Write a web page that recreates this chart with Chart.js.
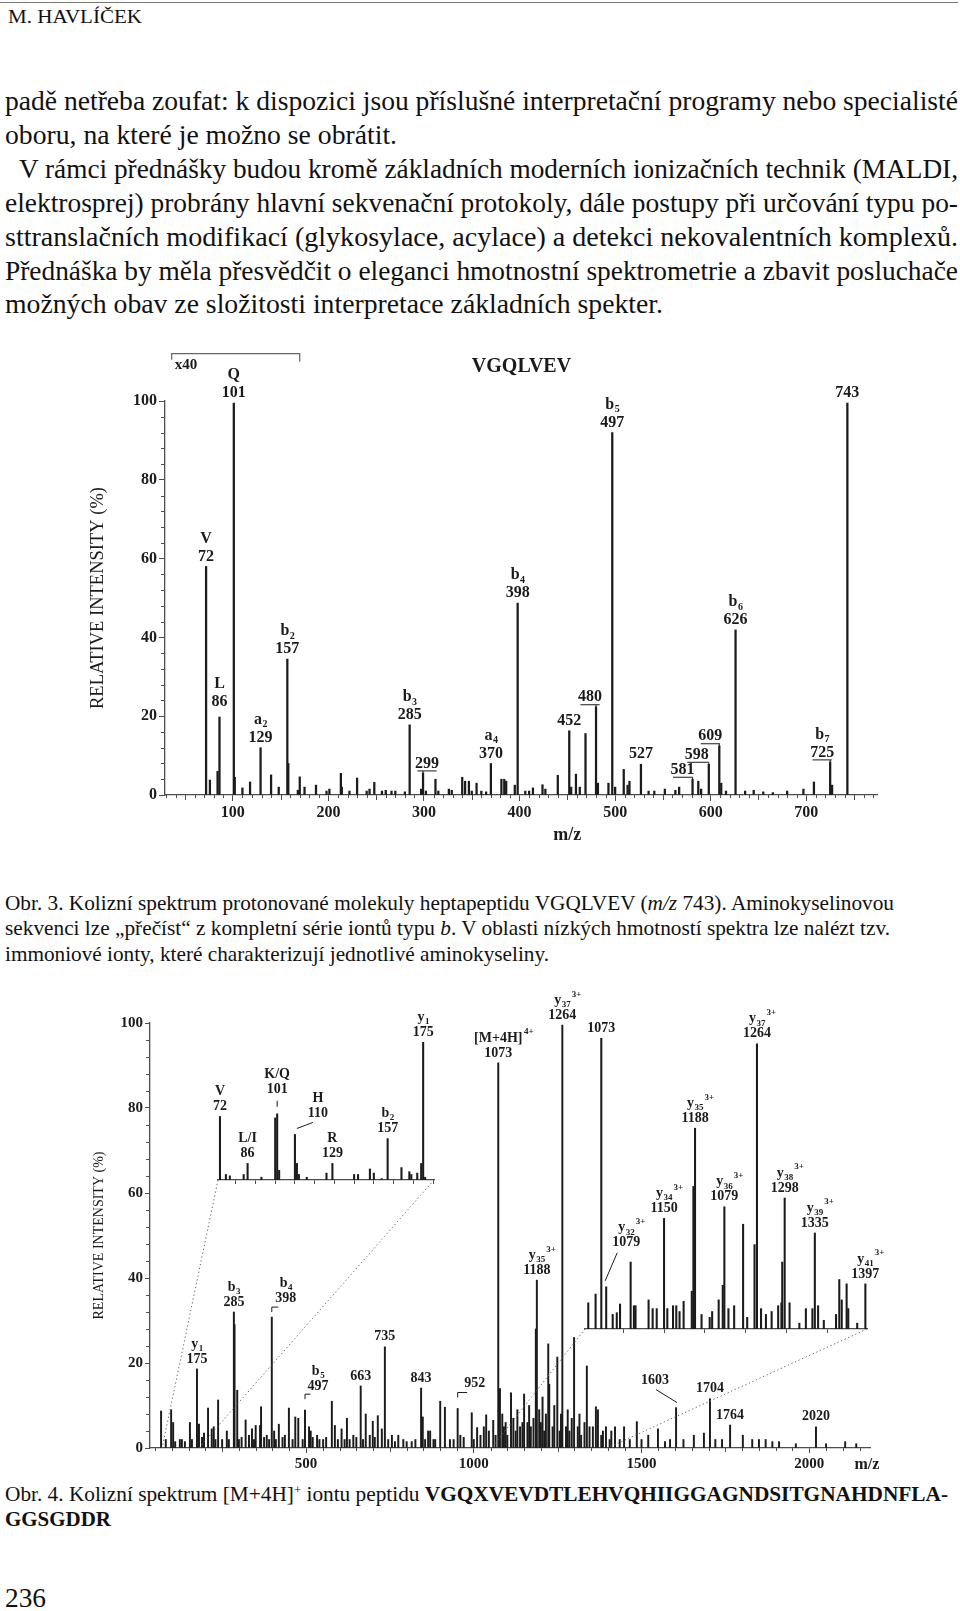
<!DOCTYPE html>
<html lang="cs">
<head>
<meta charset="utf-8">
<title>Kolizní spektra – Obr. 3 a 4</title>
<script src="https://cdn.jsdelivr.net/npm/chart.js@4.4.1/dist/chart.umd.min.js"></script>
<style>
html, body { margin: 0; padding: 0; background: #fff; }
body { width: 960px; height: 1611px; position: relative; overflow: hidden;
       font-family: "Liberation Serif", "Times New Roman", serif; color: #111; }
.ln { position: absolute; white-space: nowrap; line-height: 1; transform-origin: 0 0; }
.ln sup { font-size: 0.6em; vertical-align: 0.55em; line-height: 0; }
canvas { position: absolute; }
#rule { position: absolute; left: 0; top: 2px; width: 958px; border-top: 1.5px solid #777; }
</style>
</head>
<body>
<div id="rule"></div>
<canvas id="spec1" width="820" height="510" style="left:80px;top:340px"></canvas>
<canvas id="spec2" width="820" height="500" style="left:80px;top:980px"></canvas>
<canvas id="ins1" width="260" height="200" style="left:200px;top:1000px"></canvas>
<canvas id="ins2" width="340" height="360" style="left:560px;top:990px"></canvas>
<script>
// ---- Obr. 3: VGQLVEV, m/z and relative intensity (%)
const mz1 = [
  72, 76, 84, 86, 101, 102, 110, 118, 129, 140,
  148, 157, 158, 168, 170, 175, 187, 198, 201, 213,
  214, 222, 230, 240, 243, 248, 256, 260, 266, 270,
  280, 285, 297, 299, 302, 312, 315, 326, 329, 340,
  343, 347, 350, 355, 360, 365, 370, 381, 384, 386,
  395, 398, 406, 410, 414, 424, 427, 440, 452, 454,
  459, 463, 469, 480, 482, 493, 497, 500, 509, 513,
  515, 527, 535, 541, 552, 563, 567, 581, 587, 590,
  598, 609, 611, 616, 626, 636, 645, 655, 665, 680,
  697, 708, 725, 727, 743
];
const int1 = [
  58, 3.8, 6, 19.8, 99.5, 4.5, 1.8, 3.3, 12, 5.1,
  2, 34.5, 8, 1.2, 4.6, 2, 2.5, 1, 1.5, 5.5,
  2, 1, 4.3, 1, 1.5, 3.2, 1, 1.2, 1, 1,
  0.8, 17.8, 1.5, 5.6, 1, 4, 1, 1.5, 1.2, 4.5,
  3.5, 3.5, 1, 3, 1, 0.8, 8, 4, 4, 3.5,
  2.5, 48.7, 1, 1, 1.8, 2.6, 1.5, 5, 16.3, 2,
  5.3, 2, 15.6, 22.4, 3, 3, 92, 2, 6.5, 2.5,
  3.5, 7.8, 1, 1, 1.5, 1.2, 2, 4, 3.5, 1.5,
  7.8, 12.5, 3, 1, 41.9, 1, 1.2, 0.8, 0.6, 1,
  1.5, 3.3, 8.4, 2.5, 99.5
];
const xTicks1 = [100, 200, 300, 400, 500, 600, 700];
const yTicks = [0, 20, 40, 60, 80, 100];
const labels1 = [
  [72, ['V', '72']], [86, ['L', '86']], [101, ['Q', '101']], [129, ['a_2', '129']],
  [157, ['b_2', '157']], [285, ['b_3', '285']], [299, ['299']], [370, ['a_4', '370']],
  [398, ['b_4', '398']], [452, ['452']], [480, ['480']], [497, ['b_5', '497']],
  [527, ['527']], [581, ['581']], [598, ['598']], [609, ['609']],
  [626, ['b_6', '626']], [725, ['b_7', '725']], [743, ['743']]
];

// ---- Obr. 4: [M+4H]4+ spectrum
const mz2 = [
  68, 82, 98, 104, 110, 124, 130, 139, 154, 160,
  175, 181, 190, 196, 208, 219, 225, 230, 238, 250,
  264, 270, 285, 287, 295, 300, 308, 320, 330, 339,
  345, 350, 363, 366, 375, 383, 390, 398, 405, 410,
  419, 430, 437, 449, 460, 468, 477, 490, 497, 509,
  514, 520, 533, 540, 551, 560, 577, 586, 595, 606,
  615, 622, 630, 641, 650, 663, 670, 678, 690, 699,
  705, 714, 726, 735, 745, 756, 765, 775, 790, 800,
  815, 826, 843, 848, 855, 864, 870, 880, 885, 900,
  914, 929, 940, 952, 960, 970, 994, 1000, 1010, 1020,
  1030, 1037, 1045, 1058, 1065, 1073, 1078, 1085, 1090, 1095,
  1100, 1111, 1118, 1125, 1130, 1138, 1145, 1150, 1160, 1165,
  1170, 1178, 1185, 1188, 1195, 1200, 1205, 1210, 1215, 1222,
  1225, 1235, 1240, 1249, 1256, 1260, 1264, 1275, 1280, 1285,
  1292, 1299, 1310, 1315, 1320, 1330, 1337, 1345, 1355, 1364,
  1370, 1380, 1385, 1394, 1405, 1410, 1421, 1435, 1448, 1465,
  1486, 1500, 1520, 1549, 1570, 1585, 1603, 1625, 1656, 1686,
  1704, 1720, 1740, 1764, 1802, 1830, 1850, 1870, 1890, 1910,
  1960, 2020, 2050, 2107, 2140
];
const int2 = [
  8.7, 2, 9, 6, 1.5, 2, 2, 1.5, 6, 2,
  18.6, 5.6, 2.5, 3.5, 9.4, 4.5, 5, 2, 11.3, 2,
  4, 2, 32, 29, 13.6, 2, 2.5, 6.6, 3, 4.5,
  2, 5.3, 5.3, 9.7, 2.5, 3, 2, 30.8, 4, 2,
  5.6, 2.5, 3, 9.4, 2, 7.3, 7, 2, 8.9, 5,
  4, 2.5, 3, 2, 2, 2.5, 11, 5.3, 2, 4.5,
  2, 7, 2, 3, 2.5, 14.6, 2, 8, 3, 6.3,
  2.5, 7.6, 4.5, 23.8, 2, 3, 1.5, 3, 2, 1.5,
  1.5, 2, 14.1, 7.3, 2, 4, 4, 2, 2, 11,
  9.6, 2, 2, 9.3, 3, 2.5, 8.3, 2, 4.8, 3,
  5, 7.8, 4, 6.5, 3, 90.6, 14, 8, 5, 6,
  3, 13, 7, 4, 9, 5, 6, 12.7, 6, 10,
  5, 7, 28, 39.5, 9, 6, 12, 4, 8, 24.5,
  15, 5, 10, 21.4, 4, 8, 99.5, 5, 9, 4,
  7, 26, 5, 8, 3, 6, 19.3, 5, 5, 9.7,
  9, 3, 4, 5, 2, 4, 5, 2, 5, 2,
  6.2, 2, 3, 4.5, 1.5, 2, 9.5, 2, 3, 3.5,
  11.6, 2, 2, 5.4, 3, 2, 2, 2, 1.5, 1.5,
  1, 5, 1, 1.5, 1
];
const xTicks2 = [500, 1000, 1500, 2000];
const labels2 = [
  [175, ['y_1', '175']], [285, ['b_3', '285']], [398, ['b_4', '398']], [497, ['b_5', '497']],
  [663, ['663']], [735, ['735']], [843, ['843']], [952, ['952']],
  [1073, ['[M+4H]^4+', '1073']], [1188, ['y_35^3+', '1188']], [1264, ['y_37^3+', '1264']],
  [1603, ['1603']], [1704, ['1704']], [1764, ['1764']], [2020, ['2020']]
];

// low-mass inset (immonium ions)
const mzIn1 = [
  72, 75, 77, 84, 86, 93, 100, 101, 102, 110,
  111, 112, 116, 126, 129, 140, 142, 148, 150, 154,
  157, 164, 168, 169, 172, 174, 175, 176
];
const intIn1 = [
  46, 4, 3, 4, 12, 2, 45, 48, 7, 33,
  12, 4, 2, 5, 12, 4, 4, 8, 5, 1,
  30, 9, 6, 4, 5, 12, 100, 2
];
const xTicksIn1 = [80, 90, 100, 110, 120, 130, 140, 150, 160, 170, 180];
const labelsIn1 = [
  [72, ['V', '72']], [86, ['L/I', '86']], [101, ['K/Q', '101']], [110, ['H', '110']],
  [129, ['R', '129']], [157, ['b_2', '157']], [175, ['y_1', '175']]
];

// high-mass inset (3+ y ions)
const mzIn2 = [
  1057, 1066, 1073, 1079, 1087, 1092, 1096, 1109, 1113, 1115,
  1131, 1136, 1141, 1150, 1154, 1161, 1165, 1169, 1174, 1184,
  1186, 1188, 1196, 1206, 1209, 1217, 1222, 1224, 1229, 1236,
  1247, 1252, 1261, 1264, 1269, 1275, 1282, 1290, 1294, 1295,
  1298, 1304, 1316, 1324, 1332, 1335, 1339, 1346, 1361, 1365,
  1368, 1374, 1376, 1387, 1397
];
const intIn2 = [
  9, 12, 100, 14.5, 5, 5.6, 8.6, 23, 8, 8,
  10, 7, 7, 38, 7, 8, 8, 6, 9.5, 13,
  49, 69, 5, 4, 6, 10, 15, 42, 7, 8,
  36, 4, 29, 98, 7, 5, 6, 8, 9, 23,
  45, 9, 2, 7, 7, 33, 8, 3, 5, 17,
  10, 15.5, 7, 2, 15.5
];
const xTicksIn2 = [1100, 1150, 1200, 1250, 1300, 1350];
const labelsIn2 = [
  [1073, ['1073']], [1079, ['y_32^3+', '1079']], [1150, ['y_34^3+', '1150']],
  [1188, ['y_35^3+', '1188']], [1224, ['y_36^3+', '1079']], [1264, ['y_37^3+', '1264']],
  [1298, ['y_38^3+', '1298']], [1335, ['y_39^3+', '1335']], [1397, ['y_41^3+', '1397']]
];

// label placement tweaks (px offsets from the peak top)
const fx1 = { 86: { dy: -15 }, 299: { tag: 4 }, 480: { tag: -6 }, 581: { tag: -10 },
              598: { tag: -12 }, 609: { tag: -9 }, 725: { tag: -8 } };
const fx2 = { 398: { bracket: [14, -19, -10] }, 497: { bracket: [13, -24, -16] },
              952: { bracket: [17, -25, -16] }, 1603: { dx: -21, dy: -27, leader: [-20, -18, 1, -5] } };
const fxIn1 = { 101: { dy: -24, leader: [0, -13, 0, -7] }, 110: { dx: 23, dy: -21, leader: [18, -12, 2, -6] } };
const fxIn2 = { 1079: { dx: 20, dy: -44, leader: [11, -34, -1, -6] } };

const FONT = '"Liberation Serif", "Times New Roman", serif';
const INK = '#1b1b1b';
const AXIS = '#4d4d4d';

// ---- page text
const pageLines = [
  ['M. HAVLÍČEK', 8, 18, 134, 18],
  ['padě netřeba zoufat: k dispozici jsou příslušné interpretační programy nebo specialisté', 5, 103, 953, 28],
  ['oboru, na které je možno se obrátit.', 5, 137, 392, 28],
  ['V rámci přednášky budou kromě základních moderních ionizačních technik (MALDI,', 19, 171, 939, 28],
  ['elektrosprej) probrány hlavní sekvenační protokoly, dále postupy při určování typu po-', 5, 205, 953, 28],
  ['sttranslačních modifikací (glykosylace, acylace) a detekci nekovalentních komplexů.', 5, 239, 953, 28],
  ['Přednáška by měla přesvědčit o eleganci hmotnostní spektrometrie a zbavit posluchače', 5, 273, 953, 28],
  ['možných obav ze složitosti interpretace základních spekter.', 5, 306, 658, 28],
  ['Obr. 3. Kolizní spektrum protonované molekuly heptapeptidu VGQLVEV (<i>m/z</i> 743). Aminokyselinovou', 5, 905, 889, 21.5],
  ['sekvenci lze „přečíst“ z kompletní série iontů typu <i>b</i>. V oblasti nízkých hmotností spektra lze nalézt tzv.', 5, 930, 885, 21.5],
  ['immoniové ionty, které charakterizují jednotlivé aminokyseliny.', 5, 956, 544, 21.5],
  ['Obr. 4. Kolizní spektrum [M+4H]<sup>+</sup> iontu peptidu <b>VGQXVEVDTLEHVQHIIGGAGNDSITGNAHDNFLA-</b>', 5, 1496, 943, 21.5],
  ['<b>GGSGDDR</b>', 5, 1521, 106, 21.5],
  ['236', 5, 1600, 41, 28]
];
pageLines.forEach(([html, left, cy, width, size]) => {
  const d = document.createElement('div');
  d.className = 'ln';
  d.innerHTML = html;
  d.style.fontSize = size + 'px';
  d.style.left = left + 'px';
  d.style.top = (cy - 0.56 * size) + 'px';
  document.body.appendChild(d);
  d.style.transform = 'scaleX(' + (width / d.getBoundingClientRect().width) + ')';
});

// ---- drawing helpers
function richText(ctx, str, cx, cy, size) {
  const m = /^([^_^]*)(?:_([^^]*))?(?:\^(.*))?$/.exec(str);
  const base = m[1], sub = m[2] || '', sup = m[3] || '';
  const big = 'bold ' + size + 'px ' + FONT;
  const small = 'bold ' + Math.round(size * 0.62) + 'px ' + FONT;
  ctx.font = big;
  const wb = ctx.measureText(base).width;
  ctx.font = small;
  const ws = sub ? ctx.measureText(sub).width : 0;
  const x0 = cx - (wb + ws) / 2;
  ctx.textAlign = 'left';
  ctx.textBaseline = 'middle';
  ctx.font = big;
  ctx.fillText(base, x0, cy);
  ctx.font = small;
  if (sub) ctx.fillText(sub, x0 + wb + 0.5, cy + size * 0.32);
  if (sup) ctx.fillText(sup, x0 + wb + ws + 1.5, cy - size * 0.42);
  return wb + ws;
}

function drawPeakLabels(chart, mz, ints, list, fx, size, gap) {
  const ctx = chart.ctx, xs = chart.scales.x, ys = chart.scales.y;
  ctx.save();
  ctx.fillStyle = INK;
  ctx.strokeStyle = INK;
  ctx.lineWidth = 1;
  list.forEach(([m, lines]) => {
    const f = fx[m] || {};
    const px = xs.getPixelForValue(m);
    const top = ys.getPixelForValue(ints[mz.indexOf(m)]);
    let cx = px + (f.dx || 0);
    let cy = top + (f.dy !== undefined ? f.dy : -10);
    if (f.tag !== undefined) { cx = px + f.tag; cy = top - 9.5; }
    if (f.bracket) { cx = px + f.bracket[0]; cy = top + f.bracket[1]; }
    let wBottom = 0;
    for (let k = 0; k < lines.length; k++) {
      const w = richText(ctx, lines[lines.length - 1 - k], cx, cy - k * gap, size);
      if (k === 0) wBottom = w;
    }
    ctx.beginPath();
    if (f.tag !== undefined) {
      const uy = top - 2;
      ctx.moveTo(Math.min(px, cx - wBottom * 0.4), uy);
      ctx.lineTo(Math.max(px, cx + wBottom * 0.4), uy);
      ctx.moveTo(px, uy);
      ctx.lineTo(px, top);
    }
    if (f.bracket) {
      const by = top + f.bracket[2];
      ctx.moveTo(px, by + 5);
      ctx.lineTo(px, by);
      ctx.lineTo(cx - wBottom / 2 + 3, by);
    }
    if (f.leader) {
      const l = f.leader;
      ctx.moveTo(px + l[0], top + l[1]);
      ctx.lineTo(px + l[2], top + l[3]);
    }
    ctx.stroke();
  });
  ctx.restore();
}

function drawMinorTicks(chart, yStep, ySkip, xStep, xMid, xSkip, lens) {
  const ctx = chart.ctx, xs = chart.scales.x, ys = chart.scales.y, a = chart.chartArea;
  ctx.save();
  ctx.strokeStyle = AXIS;
  ctx.lineWidth = 1;
  ctx.beginPath();
  if (yStep) {
    for (let v = ys.min; v <= ys.max; v += yStep) {
      if (v % ySkip === 0) continue;
      const p = Math.round(ys.getPixelForValue(v)) + 0.5;
      ctx.moveTo(a.left, p);
      ctx.lineTo(a.left - lens[0], p);
    }
  }
  for (let v = Math.ceil(xs.min / xStep) * xStep; v <= xs.max; v += xStep) {
    if (v % xSkip === 0) continue;
    const p = Math.round(xs.getPixelForValue(v)) + 0.5;
    ctx.moveTo(p, a.bottom);
    ctx.lineTo(p, a.bottom + (v % xMid ? lens[1] : lens[2]));
  }
  ctx.stroke();
  ctx.restore();
}

function bars(mz, ints, thickness) {
  return [{
    data: mz.map((m, i) => ({ x: m, y: ints[i] })),
    backgroundColor: INK,
    borderWidth: 0,
    barThickness: thickness
  }];
}

function xAxis(min, max, ticks, opts) {
  return {
    type: 'linear', min: min, max: max, offset: false,
    grid: { drawOnChartArea: false, offset: false, tickLength: opts.tick, color: AXIS },
    border: { color: AXIS, width: 1.3 },
    ticks: { display: opts.labels, color: INK, padding: opts.pad || 2,
             font: { family: FONT, size: opts.size || 15, weight: 'bold' },
             callback: v => String(v) },
    afterBuildTicks: s => { s.ticks = ticks.map(v => ({ value: v })); },
    afterFit: s => { s.height = opts.height; }
  };
}

function yAxis(opts) {
  return {
    min: 0, max: 100,
    grid: { drawOnChartArea: false, tickLength: opts.tick, color: AXIS },
    border: { color: AXIS, width: 1.3 },
    ticks: { color: INK, padding: 2, font: { family: FONT, size: opts.size, weight: 'bold' },
             callback: v => String(v) },
    afterBuildTicks: s => { s.ticks = yTicks.map(v => ({ value: v })); },
    afterFit: s => { s.width = opts.width; },
    title: { display: true, text: 'RELATIVE INTENSITY (%)', color: INK,
             font: { family: FONT, size: opts.titleSize }, padding: { top: opts.titlePad, bottom: 0 } }
  };
}

const common = {
  responsive: false, animation: false, events: [],
  plugins: { legend: { display: false }, tooltip: { enabled: false } }
};

// ---- Obr. 3
new Chart(document.getElementById('spec1'), {
  type: 'bar',
  data: { datasets: bars(mz1, int1, 1.6) },
  options: Object.assign({}, common, {
    layout: { padding: { top: 61, right: 23, left: 0, bottom: 0 } },
    scales: {
      x: xAxis(29, 774, xTicks1, { tick: 6, labels: true, pad: 2.5, size: 16, height: 55 }),
      y: yAxis({ tick: 6, size: 16, width: 85, titleSize: 18.5, titlePad: 7 })
    }
  }),
  plugins: [{
    id: 'deco1',
    afterDraw(chart) {
      const ctx = chart.ctx, xs = chart.scales.x, ys = chart.scales.y;
      drawMinorTicks(chart, 4, 20, 10, 50, 100, [4, 3, 5]);
      drawPeakLabels(chart, mz1, int1, labels1, fx1, 16, 18);
      ctx.save();
      ctx.fillStyle = INK;
      ctx.strokeStyle = '#666';
      ctx.lineWidth = 1.2;
      // x40 magnification bracket
      const bx0 = xs.getPixelForValue(36), bx1 = xs.getPixelForValue(170), by = ys.getPixelForValue(112);
      ctx.beginPath();
      ctx.moveTo(bx0, by + 6); ctx.lineTo(bx0, by); ctx.lineTo(bx1, by); ctx.lineTo(bx1, by + 8);
      ctx.stroke();
      ctx.textBaseline = 'middle';
      ctx.textAlign = 'left';
      ctx.font = 'bold 15px ' + FONT;
      ctx.fillText('x40', bx0 + 3, ys.getPixelForValue(109));
      ctx.textAlign = 'center';
      ctx.font = 'bold 20px ' + FONT;
      ctx.fillText('VGQLVEV', xs.getPixelForValue(402), ys.getPixelForValue(108.6));
      ctx.font = 'bold 18px ' + FONT;
      ctx.fillText('m/z', xs.getPixelForValue(450), chart.chartArea.bottom + 40);
      ctx.restore();
    }
  }]
});

// ---- Obr. 4 insets
function insetChart(id, mz, ints, min, max, ticks, pad, axisH, labels, fx) {
  return new Chart(document.getElementById(id), {
    type: 'bar',
    data: { datasets: bars(mz, ints, 1.4) },
    options: Object.assign({}, common, {
      layout: { padding: pad },
      scales: {
        x: xAxis(min, max, ticks, { tick: 4, labels: false, height: axisH }),
        y: { display: false, min: 0, max: 100 }
      }
    }),
    plugins: [{
      id: 'decoIn',
      afterDraw(chart) { drawPeakLabels(chart, mz, ints, labels, fx, 14, 15); }
    }]
  });
}
const inset1 = insetChart('ins1', mzIn1, intIn1, 71, 180.5, xTicksIn1,
  { top: 42, left: 18, right: 26, bottom: 0 }, 20, labelsIn1, fxIn1);
const inset2 = insetChart('ins2', mzIn2, intIn2, 1053, 1399, xTicksIn2,
  { top: 48, left: 25, right: 33, bottom: 0 }, 21, labelsIn2, fxIn2);

// ---- Obr. 4 main spectrum
new Chart(document.getElementById('spec2'), {
  type: 'bar',
  data: { datasets: bars(mz2, int2, 1.3) },
  options: Object.assign({}, common, {
    layout: { padding: { top: 43, right: 30, left: 0, bottom: 0 } },
    scales: {
      x: xAxis(35, 2181, xTicks2, { tick: 5, labels: true, pad: 2, size: 15, height: 32 }),
      y: yAxis({ tick: 5, size: 15, width: 70, titleSize: 14, titlePad: 11 })
    }
  }),
  plugins: [{
    id: 'deco2',
    afterDraw(chart) {
      const ctx = chart.ctx, xs = chart.scales.x, ys = chart.scales.y;
      drawMinorTicks(chart, 4, 20, 50, 250, 500, [4, 3, 4]);
      // dotted zoom guides from each inset axis down to its m/z range
      ctx.save();
      ctx.strokeStyle = '#666';
      ctx.lineWidth = 1;
      ctx.setLineDash([1.3, 2.6]);
      ctx.beginPath();
      [inset1, inset2].forEach(ins => {
        const a = ins.chartArea, base = ins.scales.y.getPixelForValue(0);
        const ox = ins.canvas.offsetLeft - chart.canvas.offsetLeft;
        const oy = ins.canvas.offsetTop - chart.canvas.offsetTop;
        const y0 = ys.getPixelForValue(0);
        ctx.moveTo(ox + a.left, oy + base);
        ctx.lineTo(xs.getPixelForValue(ins.scales.x.min), y0);
        ctx.moveTo(ox + a.right, oy + base);
        ctx.lineTo(xs.getPixelForValue(ins.scales.x.max), y0);
      });
      ctx.stroke();
      ctx.restore();
      drawPeakLabels(chart, mz2, int2, labels2, fx2, 14, 15);
      ctx.save();
      ctx.fillStyle = INK;
      ctx.textAlign = 'center';
      ctx.textBaseline = 'middle';
      ctx.font = 'bold 16px ' + FONT;
      ctx.fillText('m/z', xs.getPixelForValue(2172), chart.chartArea.bottom + 17);
      ctx.restore();
    }
  }]
});
</script>
</body>
</html>
